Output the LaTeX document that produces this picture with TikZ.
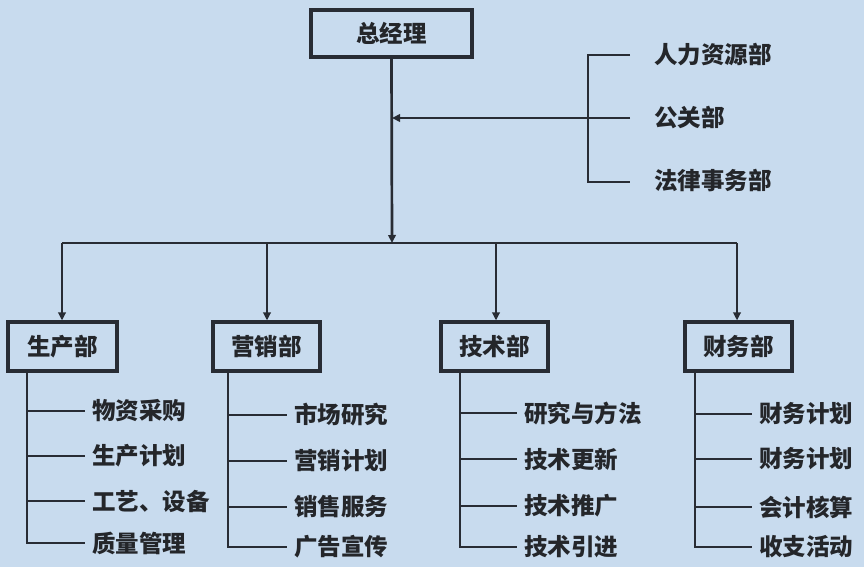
\documentclass[tikz,border=0pt]{standalone}
\usepackage{fontspec}
\newfontfamily\cjk{Noto Sans CJK SC}
\usetikzlibrary{arrows.meta}
\definecolor{bgblue}{RGB}{200,219,238}
\definecolor{ink}{RGB}{40,44,52}
\definecolor{txt}{RGB}{36,38,42}
\tikzset{
  conn/.style={draw=ink, line width=2.7pt},
  arr/.style={conn, -{Triangle[length=8pt,width=7.5pt]}},
  boxnode/.style={draw=ink, line width=3.2pt, inner sep=0pt, font=\cjk\bfseries\fontsize{23.5}{26}\selectfont, text=txt},
  item/.style={anchor=west, inner ysep=0pt, inner xsep=7pt, font=\cjk\bfseries\fontsize{23.5}{26}\selectfont, text=txt},
  staff/.style={item, inner xsep=24pt},
}
\begin{document}
\begin{tikzpicture}[x=1pt,y=-1pt]
\fill[bgblue] (0,0) rectangle (864,567);
\useasboundingbox (0,0) rectangle (864,567);

% top
\node[boxnode, minimum width=161pt, minimum height=47pt] (gm) at (391.5,33.5) {总经理};
\coordinate (bus) at (392,243);
\draw[arr] (gm.south) -- (bus);

% staff bracket
\coordinate (brL) at (392,118);
\coordinate (brM) at (588,118);
\coordinate (brT) at (588,55);
\coordinate (brB) at (588,182);
\node[staff] (hr) at (630,55) {人力资源部};
\node[staff] (pr) at (630,118) {公关部};
\node[staff] (law) at (630,180) {法律事务部};
\draw[conn] (hr.west) -- (brT) -- (brB) -- (brB -| law.west);
\draw[conn] (pr.west) -- (brM);
\draw[arr] (brM) -- (brL);

% bus
\coordinate (b1) at (62,243);
\coordinate (b2) at (267,243);
\coordinate (b3) at (496,243);
\coordinate (b4) at (737,243);
\draw[conn] (b1) -- (b4);

% departments
\node[boxnode, minimum width=109pt, minimum height=49pt] (d1) at (62.5,346.5) {生产部};
\node[boxnode, minimum width=107pt, minimum height=49pt] (d2) at (266.5,346.5) {营销部};
\node[boxnode, minimum width=107pt, minimum height=49pt] (d3) at (494.5,346.5) {技术部};
\node[boxnode, minimum width=107pt, minimum height=49pt] (d4) at (738.5,346.5) {财务部};
\draw[arr] (b1) -- (b1 |- d1.north);
\draw[arr] (b2) -- (b2 |- d2.north);
\draw[arr] (b3) -- (b3 |- d3.north);
\draw[arr] (b4) -- (b4 |- d4.north);

% dept 1
\coordinate (s1) at (27,371);
\node[item] (a1) at (85,411) {物资采购};
\node[item] (a2) at (85,456) {生产计划};
\node[item] (a3) at (85,501) {工艺、设备};
\node[item] (a4) at (85,543) {质量管理};
\draw[conn] (s1) -- (s1 |- a4.west) -- (a4.west);
\foreach \n in {a1,a2,a3} \draw[conn] (s1 |- \n.west) -- (\n.west);

% dept 2
\coordinate (s2) at (228,371);
\node[item] (m1) at (287,415) {市场研究};
\node[item] (m2) at (287,461) {营销计划};
\node[item] (m3) at (287,507) {销售服务};
\node[item] (m4) at (287,547) {广告宣传};
\draw[conn] (s2) -- (s2 |- m4.west) -- (m4.west);
\foreach \n in {m1,m2,m3} \draw[conn] (s2 |- \n.west) -- (\n.west);

% dept 3
\coordinate (s3) at (460,371);
\node[item] (t1) at (517,413) {研究与方法};
\node[item] (t2) at (517,459) {技术更新};
\node[item] (t3) at (517,506) {技术推广};
\node[item] (t4) at (517,547) {技术引进};
\draw[conn] (s3) -- (s3 |- t4.west) -- (t4.west);
\foreach \n in {t1,t2,t3} \draw[conn] (s3 |- \n.west) -- (\n.west);

% dept 4
\coordinate (s4) at (695,371);
\node[item] (f1) at (752,414) {财务计划};
\node[item] (f2) at (752,459) {财务计划};
\node[item] (f3) at (752,507) {会计核算};
\node[item] (f4) at (752,547) {收支活动};
\draw[conn] (s4) -- (s4 |- f4.west) -- (f4.west);
\foreach \n in {f1,f2,f3} \draw[conn] (s4 |- \n.west) -- (\n.west);
\end{tikzpicture}
\end{document}
